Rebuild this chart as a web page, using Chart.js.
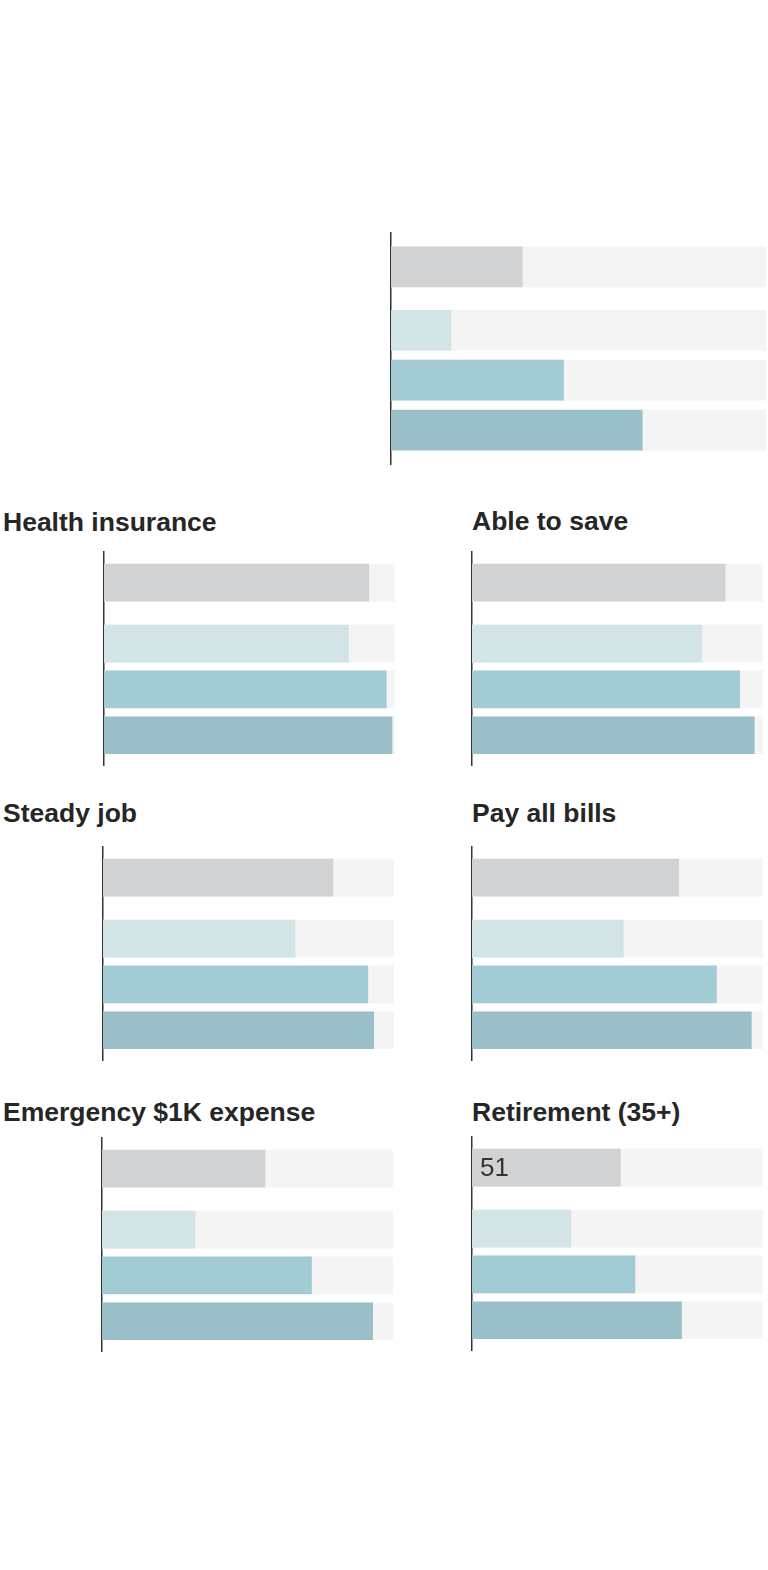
<!DOCTYPE html>
<html>
<head>
<meta charset="utf-8">
<script src="https://cdn.jsdelivr.net/npm/chart.js@4.4.1/dist/chart.umd.min.js"></script>
<style>
  html, body { margin: 0; padding: 0; background: #fff; }
  body { width: 768px; height: 1570px; position: relative; overflow: hidden;
         font-family: "Liberation Sans", Arial, sans-serif; }
  .title { position: absolute; font-size: 26.5px; line-height: 26px; font-weight: 700;
           color: #262626; white-space: nowrap; }
  .box { position: absolute; }
</style>
</head>
<body>
<script>
// ── Data ───────────────────────────────────────────────────
const panelTitles   = ['', 'Health insurance', 'Able to save', 'Steady job', 'Pay all bills', 'Emergency $1K expense', 'Retirement (35+)'];
const rowNames      = ['Overall', 'Group 1', 'Group 2', 'Group 3'];
const overallValues = [35, 91, 87, 79, 71, 56, 51];
const group1Values  = [16, 84, 79, 66, 52, 32, 34];
const group2Values  = [46, 97, 92, 91, 84, 72, 56];
const group3Values  = [67, 99, 97, 93, 96, 93, 72];
const scaleMax      = 100;
const labeledPanels = [6];   // panels that show the value of the overall bar

// ── Styles ─────────────────────────────────────────────────
const barColors  = ['#d1d2d4', '#d3e4e7', '#a2cbd3', '#9bbfc8'];
const trackColor = '#f4f4f4';
const axisColor  = '#333333';

// ── Layout (px of the axis/plot box, title position) ───────
const layout = [
  { left: 391, top: 232,  width: 375, height: 233, bar: 40, min: -0.70, max: 3.97, gap: 0.27 },
  { left: 104, top: 551,  width: 291, height: 215, bar: 37, min: -0.69, max: 4.00, gap: 0.33, tx: 3,   ty: 509 },
  { left: 472, top: 551,  width: 291, height: 215, bar: 37, min: -0.69, max: 4.00, gap: 0.33, tx: 472, ty: 508 },
  { left: 103, top: 846,  width: 291, height: 215, bar: 37, min: -0.69, max: 4.00, gap: 0.33, tx: 3,   ty: 800 },
  { left: 472, top: 846,  width: 291, height: 215, bar: 37, min: -0.69, max: 4.00, gap: 0.33, tx: 472, ty: 800 },
  { left: 102, top: 1137, width: 291, height: 215, bar: 37, min: -0.69, max: 4.00, gap: 0.33, tx: 3,   ty: 1099 },
  { left: 472, top: 1136, width: 291, height: 215, bar: 37, min: -0.69, max: 4.00, gap: 0.33, tx: 472, ty: 1099 }
];
const PAD = 2;

const valueLabel = {
  id: 'valueLabel',
  afterDatasetsDraw(chart) {
    const bar = chart.getDatasetMeta(0).data[0];
    const ctx = chart.ctx;
    ctx.save();
    ctx.font = '26px "Liberation Sans", Arial, sans-serif';
    ctx.fillStyle = '#333';
    ctx.textBaseline = 'middle';
    ctx.fillText(String(chart.data.datasets[0].data[0].x), bar.base + 8, bar.y + 1);
    ctx.restore();
  }
};

function buildPanel(i) {
  const L = layout[i];

  if (panelTitles[i]) {
    const t = document.createElement('div');
    t.className = 'title';
    t.style.left = L.tx + 'px';
    t.style.top = L.ty + 'px';
    t.textContent = panelTitles[i];
    document.body.appendChild(t);
  }

  const box = document.createElement('div');
  box.className = 'box';
  box.style.left = (L.left - PAD) + 'px';
  box.style.top = L.top + 'px';
  const cv = document.createElement('canvas');
  cv.width = L.width + PAD;
  cv.height = L.height;
  box.appendChild(cv);
  document.body.appendChild(box);

  const rowPos = rowNames.map((_, r) => r + (r > 0 ? L.gap : 0));
  const values = [overallValues[i], group1Values[i], group2Values[i], group3Values[i]];

  new Chart(cv, {
    type: 'bar',
    data: {
      datasets: [
        {
          label: 'Share',
          data: values.map((v, r) => ({ x: v, y: rowPos[r] })),
          backgroundColor: barColors,
          barThickness: L.bar,
          grouped: false
        },
        {
          label: 'Track',
          data: rowPos.map(p => ({ x: scaleMax, y: p })),
          backgroundColor: trackColor,
          barThickness: L.bar,
          grouped: false
        }
      ]
    },
    options: {
      indexAxis: 'y',
      responsive: false,
      animation: false,
      layout: { padding: { left: PAD, right: 0, top: 0, bottom: 0 } },
      plugins: { legend: { display: false }, tooltip: { enabled: false } },
      scales: {
        x: { type: 'linear', min: 0, max: scaleMax, display: false },
        y: {
          type: 'linear', min: L.min, max: L.max, reverse: true, offset: false, z: 1,
          ticks: { display: false },
          grid: { display: false },
          border: { display: true, color: axisColor, width: 1.5 },
          afterFit: scale => { scale.width = 0; }
        }
      }
    },
    plugins: labeledPanels.includes(i) ? [valueLabel] : []
  });
}

panelTitles.forEach((_, i) => buildPanel(i));
</script>
</body>
</html>
